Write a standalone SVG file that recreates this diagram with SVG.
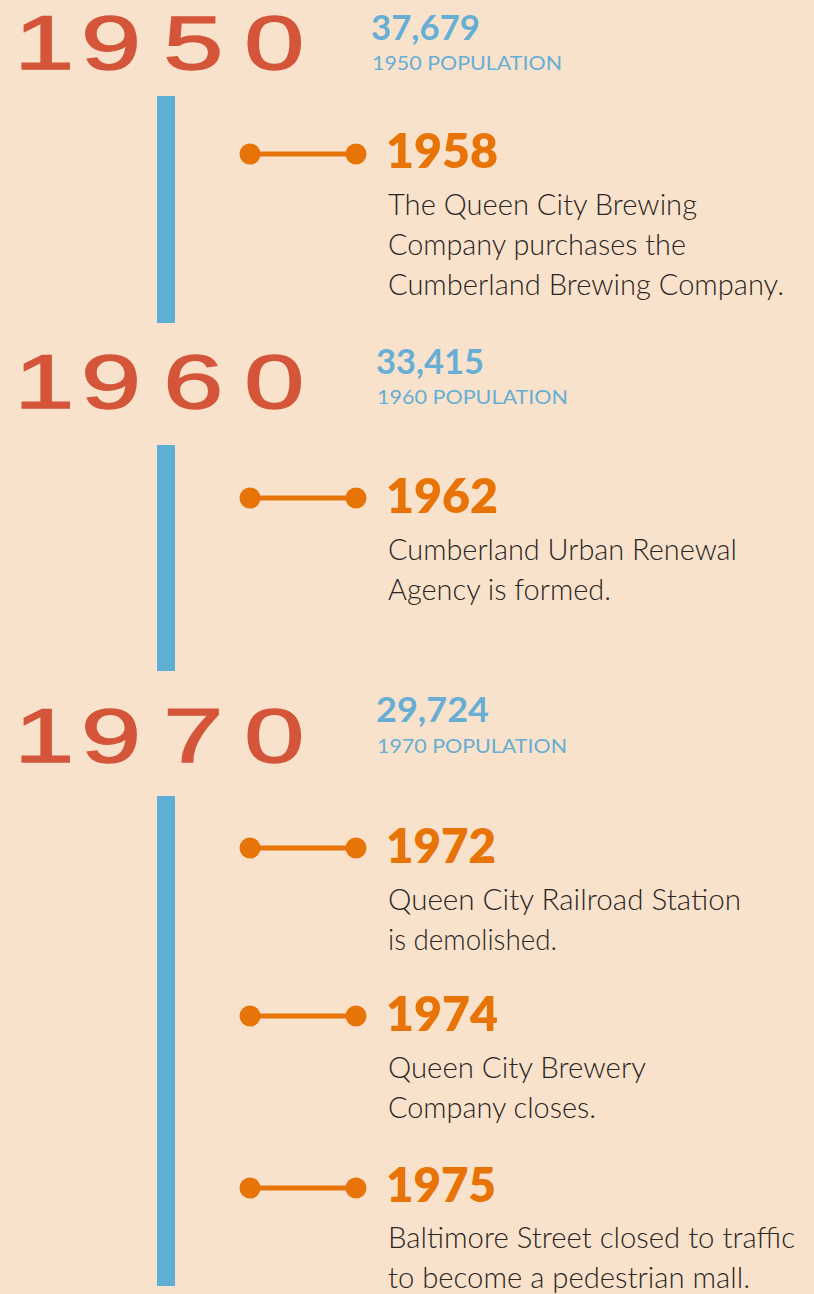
<svg xmlns="http://www.w3.org/2000/svg" width="814" height="1294" viewBox="0 0 814 1294">
  <defs>
    <style>
      .decade { font-family: "Liberation Sans", Arimo, sans-serif; font-size: 76px; fill: #D4553A; stroke: #D4553A; stroke-width: 1.4; }
      .pop-num { font-family: Lato, "Open Sans", sans-serif; font-weight: 700; font-size: 35px; fill: #66AED3; }
      .pop-lbl { font-family: Lato, "Open Sans", sans-serif; font-size: 20px; fill: #66AED3; }
      .ev-year { font-family: Lato, "Open Sans", sans-serif; font-weight: 800; font-size: 48px; fill: #E87306; }
      .ev-text { font-family: Lato, "Open Sans", sans-serif; font-weight: 300; font-size: 29px; fill: #2B2623; }
      .bar { fill: #5FAED5; }
      .link { stroke: #E87306; stroke-width: 5; fill: none; marker-start: url(#dot); marker-end: url(#dot); }
    </style>
    <marker id="dot" viewBox="-11 -11 22 22" markerWidth="22" markerHeight="22" markerUnits="userSpaceOnUse" orient="auto">
      <circle cx="0" cy="0" r="10.5" fill="#E87306"/>
    </marker>
  </defs>

  <rect width="814" height="1294" fill="#F9E2CC"/>

  <!-- decade headers: wide display numerals, stretched horizontally -->
  <g id="decade-1950">
    <text class="decade" transform="translate(0 69) scale(1.42 1)"><tspan x="10" y="0">1</tspan><tspan x="57" y="0">9</tspan><tspan x="115" y="0">5</tspan><tspan x="172" y="0">0</tspan></text>
    <text class="pop-num" x="371" y="40" textLength="109" lengthAdjust="spacingAndGlyphs">37,679</text>
    <text class="pop-lbl" x="372" y="70" textLength="190" lengthAdjust="spacingAndGlyphs">1950 POPULATION</text>
  </g>
  <g id="decade-1960">
    <text class="decade" transform="translate(0 408) scale(1.42 1)"><tspan x="10" y="0">1</tspan><tspan x="57" y="0">9</tspan><tspan x="115" y="0">6</tspan><tspan x="172" y="0">0</tspan></text>
    <text class="pop-num" x="376" y="374" textLength="108" lengthAdjust="spacingAndGlyphs">33,415</text>
    <text class="pop-lbl" x="377" y="404" textLength="191" lengthAdjust="spacingAndGlyphs">1960 POPULATION</text>
  </g>
  <g id="decade-1970">
    <text class="decade" transform="translate(0 762) scale(1.42 1)"><tspan x="10" y="0">1</tspan><tspan x="57" y="0">9</tspan><tspan x="115" y="0">7</tspan><tspan x="172" y="0">0</tspan></text>
    <text class="pop-num" x="376" y="722" textLength="113" lengthAdjust="spacingAndGlyphs">29,724</text>
    <text class="pop-lbl" x="377" y="753" textLength="190" lengthAdjust="spacingAndGlyphs">1970 POPULATION</text>
  </g>

  <!-- decade spans -->
  <g id="spans">
    <rect class="bar" x="157" y="96" width="18" height="227"/>
    <rect class="bar" x="157" y="445" width="18" height="226"/>
    <rect class="bar" x="157" y="796" width="18" height="490"/>
  </g>

  <!-- event connectors -->
  <g id="connectors">
    <line class="link" x1="250" y1="154" x2="356" y2="154"/>
    <line class="link" x1="250" y1="498" x2="356" y2="498"/>
    <line class="link" x1="250" y1="848" x2="356" y2="848"/>
    <line class="link" x1="250" y1="1016" x2="356" y2="1016"/>
    <line class="link" x1="250" y1="1188" x2="356" y2="1188"/>
  </g>

  <!-- events -->
  <g id="event-1958">
    <text class="ev-year" x="386" y="168" textLength="112" lengthAdjust="spacingAndGlyphs">1958</text>
    <text class="ev-text" x="388" y="215" textLength="309" lengthAdjust="spacingAndGlyphs">The Queen City Brewing</text>
    <text class="ev-text" x="388" y="255" textLength="298" lengthAdjust="spacingAndGlyphs">Company purchases the</text>
    <text class="ev-text" x="388" y="295" textLength="396" lengthAdjust="spacingAndGlyphs">Cumberland Brewing Company.</text>
  </g>
  <g id="event-1962">
    <text class="ev-year" x="386" y="513" textLength="112" lengthAdjust="spacingAndGlyphs">1962</text>
    <text class="ev-text" x="388" y="560" textLength="349" lengthAdjust="spacingAndGlyphs">Cumberland Urban Renewal</text>
    <text class="ev-text" x="388" y="600" textLength="223" lengthAdjust="spacingAndGlyphs">Agency is formed.</text>
  </g>
  <g id="event-1972">
    <text class="ev-year" x="386" y="863" textLength="110" lengthAdjust="spacingAndGlyphs">1972</text>
    <text class="ev-text" x="388" y="910" textLength="353" lengthAdjust="spacingAndGlyphs">Queen City Railroad Station</text>
    <text class="ev-text" x="388" y="950" textLength="169" lengthAdjust="spacingAndGlyphs">is demolished.</text>
  </g>
  <g id="event-1974">
    <text class="ev-year" x="386" y="1031" textLength="112" lengthAdjust="spacingAndGlyphs">1974</text>
    <text class="ev-text" x="388" y="1078" textLength="258" lengthAdjust="spacingAndGlyphs">Queen City Brewery</text>
    <text class="ev-text" x="388" y="1118" textLength="208" lengthAdjust="spacingAndGlyphs">Company closes.</text>
  </g>
  <g id="event-1975">
    <text class="ev-year" x="386" y="1202" textLength="110" lengthAdjust="spacingAndGlyphs">1975</text>
    <text class="ev-text" x="388" y="1248" textLength="407" lengthAdjust="spacingAndGlyphs">Baltimore Street closed to traffic</text>
    <text class="ev-text" x="388" y="1288" textLength="362" lengthAdjust="spacingAndGlyphs">to become a pedestrian mall.</text>
  </g>
</svg>
